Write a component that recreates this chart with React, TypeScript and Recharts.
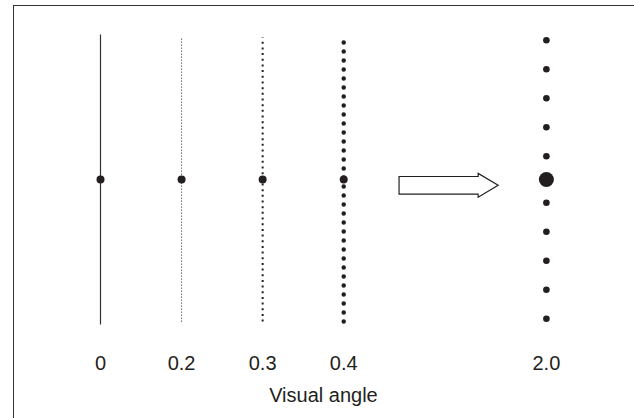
import React from "react";
import {
  ComposedChart,
  Line,
  Scatter,
  XAxis,
  YAxis,
  ReferenceArea,
} from "recharts";

// visual angle labels and the slot each column sits on along the axis
const categories = ["0", "0.2", "0.3", "0.4", "2.0"];
const slots = [0, 2, 4, 6, 11];

// vertical extent of each column (same units as the y axis)
const solidExtent = [-5, 5];
const dottedExtent = [-4.9, 4.9];

// sparse dots of the 2.0 column
const coarseDots = [-4.8, -3.8, -2.8, -1.8, -0.8, 0.8, 1.8, 2.8, 3.8, 4.8];

// arrow between 0.4 and 2.0
const arrowX = [7.365, 9.81];
const arrowY = [-0.61, 0.21];

const INK = "#231f20";
const FONT = "'Liberation Sans', Arial, Helvetica, sans-serif";

const column = (slot: number, extent: number[]) =>
  extent.map((y) => ({ slot, y }));

const centerDots = slots.slice(0, 4).map((slot) => ({ slot, y: 0 }));
const bigDot = [{ slot: slots[4], y: 0 }];
const sparseDots = coarseDots.map((y) => ({ slot: slots[4], y }));

const dot = (r: number) => (p: any) =>
  <circle cx={p.cx} cy={p.cy} r={r} fill={INK} />;

const Arrow = (p: any) => {
  const { x, y, width, height } = p;
  const yc = y + height / 2;
  const sh = (height / 2) * 0.74;
  const head = 20;
  const xh = x + width - head;
  const pts = [
    [x, yc - sh],
    [xh, yc - sh],
    [xh, y],
    [x + width, yc],
    [xh, y + height],
    [xh, yc + sh],
    [x, yc + sh],
  ]
    .map((q) => q.join(","))
    .join(" ");
  return <polygon points={pts} fill="#fff" stroke={INK} strokeWidth={1.2} />;
};

export default function App() {
  return (
    <div
      style={{
        position: "absolute",
        left: 0,
        top: 0,
        width: 634,
        height: 418,
        overflow: "hidden",
        background: "#fff",
      }}
    >
      <div
        style={{
          position: "absolute",
          left: 12.5,
          top: 5,
          width: 700,
          height: 500,
          borderLeft: "1.5px solid #333",
          borderTop: "1.5px solid #333",
        }}
      />
      <div style={{ position: "absolute", left: 0, top: 0 }}>
        <ComposedChart
          width={634}
          height={418}
          margin={{ top: 34.5, right: 87.6, bottom: 13.5, left: 100.5 }}
        >
          <XAxis
            type="number"
            dataKey="slot"
            domain={[0, 11]}
            ticks={slots}
            interval={0}
            tickFormatter={(v: number) => categories[slots.indexOf(v)] ?? ""}
            axisLine={false}
            tickLine={false}
            tickMargin={25}
            height={80}
            tick={{ fontSize: 20, fill: INK, fontFamily: FONT }}
            label={{
              value: "Visual angle",
              position: "insideBottom",
              offset: 3,
              fontSize: 20,
              fill: INK,
              fontFamily: FONT,
            }}
          />
          <YAxis type="number" dataKey="y" domain={[-5, 5]} hide />

          <Line
            data={column(slots[0], solidExtent)}
            dataKey="y"
            stroke="#333"
            strokeWidth={1.2}
            dot={false}
            isAnimationActive={false}
          />
          <Line
            data={column(slots[1], dottedExtent)}
            dataKey="y"
            stroke={INK}
            strokeWidth={1}
            strokeDasharray="1 2"
            dot={false}
            isAnimationActive={false}
          />
          <Line
            data={column(slots[2], dottedExtent)}
            dataKey="y"
            stroke={INK}
            strokeWidth={2}
            strokeDasharray="2 3.67"
            dot={false}
            isAnimationActive={false}
          />
          <Line
            data={column(slots[3], dottedExtent)}
            dataKey="y"
            stroke={INK}
            strokeWidth={4.5}
            strokeDasharray="0 9"
            strokeLinecap="round"
            dot={false}
            isAnimationActive={false}
          />

          <Scatter data={centerDots} dataKey="y" shape={dot(4)} isAnimationActive={false} />
          <Scatter data={sparseDots} dataKey="y" shape={dot(3.3)} isAnimationActive={false} />
          <Scatter data={bigDot} dataKey="y" shape={dot(7.5)} isAnimationActive={false} />

          <ReferenceArea
            x1={arrowX[0]}
            x2={arrowX[1]}
            y1={arrowY[0]}
            y2={arrowY[1]}
            shape={Arrow}
          />
        </ComposedChart>
      </div>
    </div>
  );
}
